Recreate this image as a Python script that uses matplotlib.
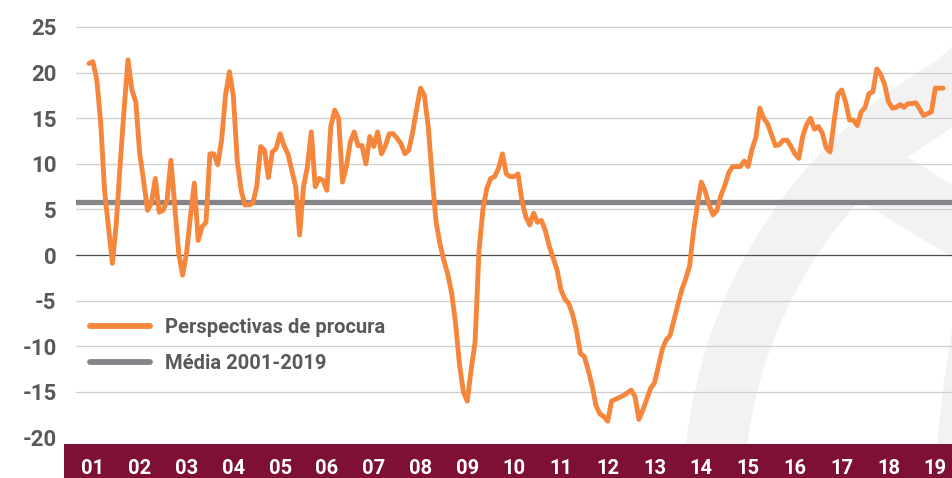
import numpy as np
import matplotlib.pyplot as plt
import matplotlib.transforms as mtransforms
from matplotlib.patches import Polygon, Rectangle
from matplotlib.lines import Line2D

# perspectivas de procura, mensal (dez 2000 - mar 2019)
procura = [
    21.0,
    21.2, 19.2, 14.5, 7.0, 3.0, -0.9, 3.5, 10.0, 16.0, 21.4, 18.1, 16.8,   # 2001
    11.1, 8.2, 4.9, 5.7, 8.4, 4.7, 4.9, 6.0, 10.4, 5.3, 0.2, -2.2,         # 2002
    0.2, 4.2, 7.9, 1.6, 3.1, 3.6, 11.1, 11.1, 9.9, 12.6, 17.5, 20.1,       # 2003
    17.5, 10.4, 7.1, 5.5, 5.5, 5.7, 7.5, 11.9, 11.5, 8.5, 11.3, 11.7,      # 2004
    13.3, 12.0, 11.1, 9.3, 7.5, 2.2, 7.5, 9.7, 13.5, 7.5, 8.4, 8.2,        # 2005
    7.1, 14.1, 15.9, 15.0, 8.0, 9.7, 12.4, 13.5, 12.0, 12.0, 10.0, 13.0,   # 2006
    11.9, 13.5, 11.1, 12.0, 13.3, 13.3, 12.8, 12.2, 11.1, 11.5, 13.5, 16.0,  # 2007
    18.3, 17.5, 14.0, 8.5, 3.6, 1.2, -0.6, -2.1, -4.2, -7.5, -12.0, -15.0,   # 2008
    -16.0, -12.5, -9.5, 0.5, 5.0, 7.3, 8.4, 8.6, 9.5, 11.1, 8.9, 8.6,      # 2009
    8.6, 8.9, 6.0, 4.2, 3.3, 4.6, 3.6, 3.8, 2.7, 1.0, -0.3, -1.6,          # 2010
    -3.8, -4.8, -5.3, -6.5, -8.3, -10.8, -11.1, -12.6, -14.3, -16.5, -17.4, -17.7,  # 2011
    -18.2, -16.0, -15.8, -15.6, -15.4, -15.1, -14.8, -15.5, -18.0, -17.0, -15.8, -14.6,  # 2012
    -14.0, -12.2, -10.3, -9.3, -8.8, -7.1, -5.4, -3.8, -2.6, -1.2, 2.6, 5.5,  # 2013
    8.0, 7.0, 5.5, 4.4, 4.9, 6.5, 7.6, 9.0, 9.7, 9.7, 9.7, 10.3,           # 2014
    9.7, 11.6, 12.9, 16.1, 15.0, 14.4, 13.2, 12.0, 12.1, 12.6, 12.6, 11.9,  # 2015
    11.1, 10.6, 13.0, 14.3, 15.0, 13.8, 14.1, 13.4, 11.8, 11.3, 14.5, 17.6,  # 2016
    18.1, 16.8, 14.8, 14.8, 14.2, 15.7, 16.2, 17.7, 17.9, 20.4, 19.8, 18.7,  # 2017
    16.8, 16.1, 16.2, 16.5, 16.2, 16.6, 16.6, 16.7, 16.0, 15.3, 15.5, 15.7,  # 2018
    18.3, 18.3, 18.3,                                                     # 2019
]
media = 5.8
inicio = 2000 + 11 / 12

anos = list(range(2001, 2020))
rotulos_x = [f"{a % 100:02d}" for a in anos]
y_ticks = [-20, -15, -10, -5, 0, 5, 10, 15, 20, 25]

laranja = "#f5863c"
cinza = "#848589"
bordo = "#7d1034"
texto = "#58595b"
marca = "#f2f2f2"

plt.rcParams["font.family"] = ["Roboto", "DejaVu Sans"]
plt.rcParams["font.weight"] = "bold"

W, H = 952, 478
fig = plt.figure(figsize=(W / 100, H / 100), dpi=100)
px = mtransforms.Affine2D().scale(1 / W, -1 / H).translate(0, 1) + fig.transFigure

ax = fig.add_axes([76 / W, 34 / H, 1 - 76 / W, 444 / H])
ax.patch.set_visible(False)

# marca de agua (arco + entalhe)
cx, cy = 1190, 500
t = np.radians(np.linspace(85, 200, 200))
outer = np.column_stack([cx + 507 * np.cos(t), cy - 507 * np.sin(t)])
inner = np.column_stack([cx + 446 * np.cos(t[::-1]), cy - 446 * np.sin(t[::-1])])
formas = [
    np.vstack([outer, inner]),
    [(858, 200), (960, 262), (960, 190), (908, 157), (960, 122), (960, 40), (880, 110)],
    [(960, 320), (952, 330), (944, 380), (937, 444), (960, 444)],
]
for f in formas:
    ax.add_patch(Polygon(f, closed=True, transform=px, facecolor=marca,
                         edgecolor="none", zorder=0.1, clip_on=False))

# faixa inferior
ax.add_patch(Rectangle((64, 444), W - 64, 34, transform=px, facecolor=bordo,
                       edgecolor="none", zorder=0.5, clip_on=False))

x = inicio + np.arange(len(procura)) / 12

for v in y_ticks:
    if v == 0:
        ax.axhline(v, color="#4d4d4d", lw=0.9, zorder=1)
    elif v > -20:
        ax.axhline(v, color="#cfcfcf", lw=0.9, zorder=1)

ax.axhline(media, color=cinza, lw=3.8, solid_capstyle="round", zorder=2)
ax.plot(x, procura, color=laranja, lw=3.5, solid_joinstyle="round",
        solid_capstyle="round", zorder=3)

ax.set_xlim(inicio - 13 / 46.8, inicio + (W - 89) / 46.8)
ax.set_ylim(-20.7, 25 + 27 / 9.13)

ax.set_yticks(y_ticks)
ax.set_yticklabels([str(v) for v in y_ticks])
ax.tick_params(axis="y", length=0, pad=14, labelsize=16, labelcolor=texto)
ax.set_xticks(anos)
ax.set_xticklabels(rotulos_x)
ax.tick_params(axis="x", length=0, pad=11, labelsize=14.5, labelcolor="white")
for s in ax.spines.values():
    s.set_visible(False)

handles = [Line2D([], [], color=laranja, lw=4.2, solid_capstyle="round"),
           Line2D([], [], color=cinza, lw=4.2, solid_capstyle="round")]
leg = ax.legend(handles, ["Perspectivas de procura", "Média 2001-2019"],
                loc="upper left", bbox_to_anchor=(14 / 876, (444 - 318) / 444),
                frameon=False, fontsize=14.5, handlelength=3.0, handletextpad=0.7,
                labelspacing=0.85, borderaxespad=0, borderpad=0)
leg.set_zorder(5)
for txt in leg.get_texts():
    txt.set_color(texto)

fig.savefig("out.png", dpi=100)
